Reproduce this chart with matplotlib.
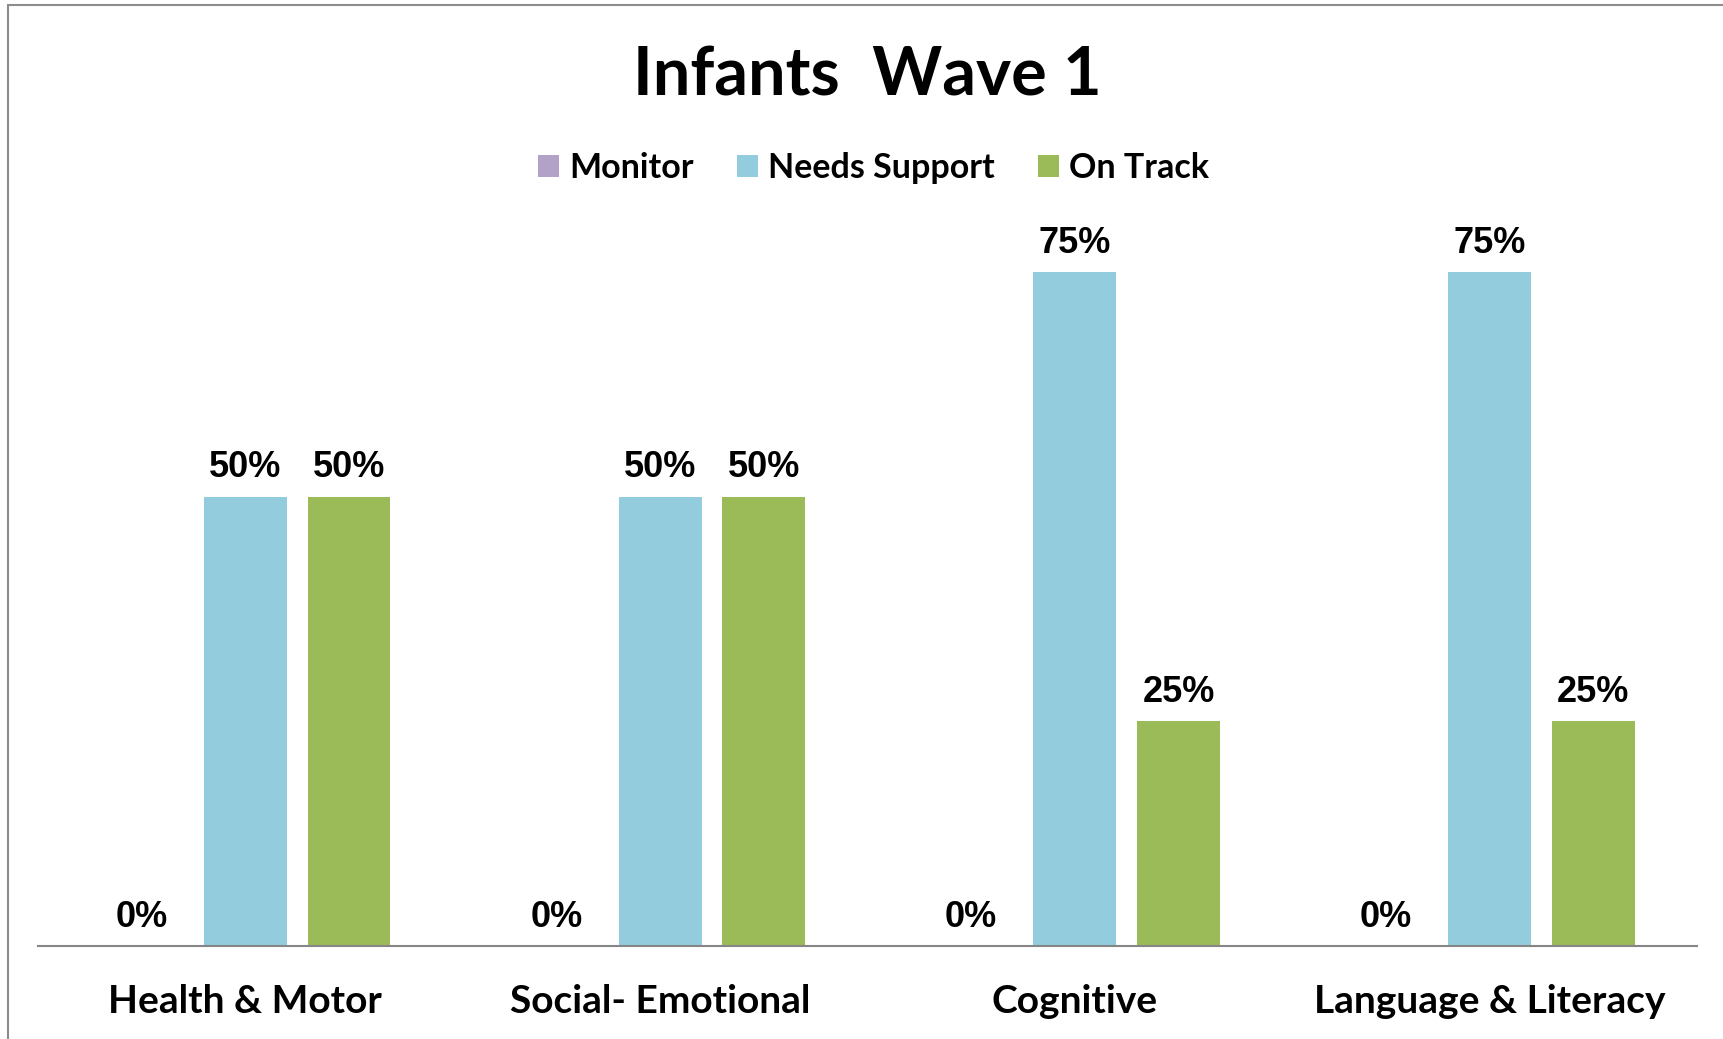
import matplotlib.pyplot as plt
import numpy as np
from matplotlib.patches import Rectangle

plt.rcParams['font.family'] = ['Lato', 'DejaVu Sans']

# Datos
categorias = ["Health & Motor", "Social- Emotional", "Cognitive", "Language & Literacy"]
series = ["Monitor", "Needs Support", "On Track"]
monitor = [0.0, 0.0, 0.0, 0.0]
needs_support = [0.50, 0.50, 0.75, 0.75]
on_track = [0.50, 0.50, 0.25, 0.25]
colores = ["#B3A2C7", "#93CDDD", "#9BBB59"]

fig = plt.figure(figsize=(17.24, 10.39), dpi=100)
ax = fig.add_axes([0.022, 0.0895, 0.9623, 0.70])

x = np.arange(len(categorias))
ancho = 0.2
desp = [-0.25, 0.0, 0.25]
valores = [monitor, needs_support, on_track]

for i, (nombre, vals) in enumerate(zip(series, valores)):
    barras = ax.bar(x + desp[i], vals, width=ancho, color=colores[i], label=nombre)
    for b, v in zip(barras, vals):
        ax.annotate(f"{v:.0%}", (b.get_x() + b.get_width() / 2, v),
                    xytext=(0, 14), textcoords="offset points",
                    ha="center", va="baseline", fontsize=26, fontweight="bold",
                    family=["Liberation Sans", "DejaVu Sans"])

ax.set_xlim(-0.5, 3.5)
ax.set_ylim(0, 0.8096)
ax.set_yticks([])
ax.set_xticks(x)
ax.set_xticklabels(categorias, fontsize=28, fontweight="bold")
ax.tick_params(axis="x", length=0, pad=27)
for lado in ["top", "right", "left"]:
    ax.spines[lado].set_visible(False)
ax.spines["bottom"].set_color("#868686")
ax.spines["bottom"].set_linewidth(1.5)

fig.text(0.503, 0.9265, "Infants  Wave 1", ha="center", va="center",
         fontsize=48, fontweight="bold")

fig.legend(loc="center", bbox_to_anchor=(0.5067, 0.838), ncol=3, frameon=False,
           handlelength=0.63, handleheight=0.63, handletextpad=0.3,
           columnspacing=1.25, prop={"weight": "bold", "size": 24.5})

# Borde de la figura
fig.patches.append(Rectangle((8 / 1724, -0.1), 1.2, 1.1 - 5 / 1039,
                             transform=fig.transFigure, fill=False,
                             edgecolor="#8C8C8C", linewidth=1.5))

fig.savefig("out.png", dpi=100)
